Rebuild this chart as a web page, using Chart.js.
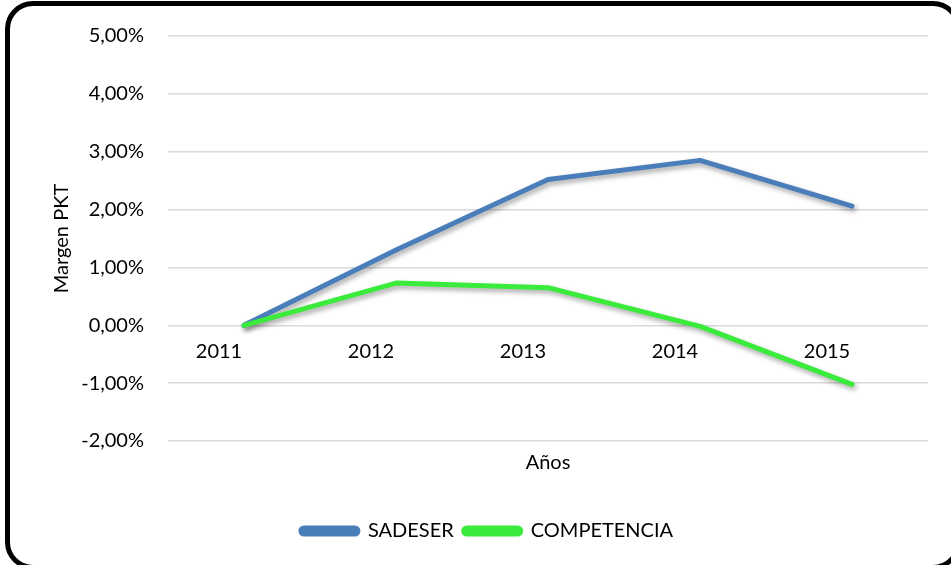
<!DOCTYPE html>
<html>
<head>
<meta charset="utf-8">
<script src="https://cdn.jsdelivr.net/npm/chart.js@4"></script>
<style>
  html, body { margin: 0; padding: 0; background: #fff; overflow: hidden; }
  #wrap { position: relative; width: 951px; height: 565px; overflow: hidden; }
  #c { position: absolute; left: 0; top: 0; }
  #frame { position: absolute; left: 5px; top: 1px; width: 946px; height: 559px; border: 5px solid #000; border-radius: 28px; pointer-events: none; }
</style>
</head>
<body>
<div id="wrap">
  <canvas id="c" width="951" height="565"></canvas>
  <div id="frame"></div>
</div>
<script>
const categories = ['2011', '2012', '2013', '2014', '2015'];
const sadeser = [0.00, 1.30, 2.52, 2.85, 2.06];
const competencia = [0.00, 0.73, 0.65, -0.02, -1.02];
const seriesNames = ['SADESER', 'COMPETENCIA'];
const yAxisTitle = 'Margen PKT';
const xAxisTitle = 'Años';

const FONT = 'Lato';
const shadowPlugin = {
  id: 'lineShadow',
  beforeDatasetsDraw(chart) {
    const ctx = chart.ctx;
    ctx.save();
    ctx.shadowColor = 'rgba(0,0,0,0.35)';
    ctx.shadowBlur = 5;
    ctx.shadowOffsetX = 2;
    ctx.shadowOffsetY = 3;
  },
  afterDatasetsDraw(chart) {
    chart.ctx.restore();
  }
};

new Chart(document.getElementById('c'), {
  type: 'line',
  data: {
    labels: categories,
    datasets: [
      { label: seriesNames[0], data: sadeser, borderColor: '#4A7EBB', backgroundColor: '#4A7EBB',
        borderWidth: 5, order: 1 },
      { label: seriesNames[1], data: competencia, borderColor: '#3BEB3B', backgroundColor: '#3BEB3B',
        borderWidth: 5, order: 0 }
    ]
  },
  options: {
    responsive: false,
    animation: false,
    layout: { padding: { left: 46, right: 23, top: 32, bottom: 14 } },
    elements: {
      line: { tension: 0, borderCapStyle: 'round', borderJoinStyle: 'round' },
      point: { radius: 0, hoverRadius: 0 }
    },
    scales: {
      x: {
        position: { y: 0 },
        offset: true,
        grid: { display: false, drawTicks: false },
        border: { display: false },
        ticks: { font: { family: FONT, size: 20 }, color: '#000', padding: 14, labelOffset: -25, maxRotation: 0 }
      },
      y: {
        min: -2, max: 5,
        afterFit(s) { s.width = 122; },
        grid: { color: '#d9d9d9', lineWidth: 1.5, drawTicks: false },
        border: { display: false },
        ticks: {
          stepSize: 1, padding: 24, color: '#000', font: { family: FONT, size: 20 },
          callback: (v) => v.toFixed(2).replace('.', ',') + '%'
        },
        title: { display: true, text: yAxisTitle, color: '#000', font: { family: FONT, size: 20 }, padding: { top: 4, bottom: 4 } }
      }
    },
    plugins: {
      title: { display: true, text: xAxisTitle, position: 'bottom', weight: 500, fullSize: false, color: '#000',
               font: { family: FONT, size: 20, weight: 'normal' }, padding: { top: 10, bottom: 36 } },
      legend: {
        position: 'bottom',
        labels: {
          font: { family: FONT, size: 20 }, color: '#000',
          boxWidth: 57, boxHeight: 6, useBorderRadius: true, borderRadius: 3, padding: 10,
          sort: (a, b) => a.datasetIndex - b.datasetIndex
        }
      },
      tooltip: { enabled: false }
    }
  },
  plugins: [shadowPlugin]
});
</script>
</body>
</html>
